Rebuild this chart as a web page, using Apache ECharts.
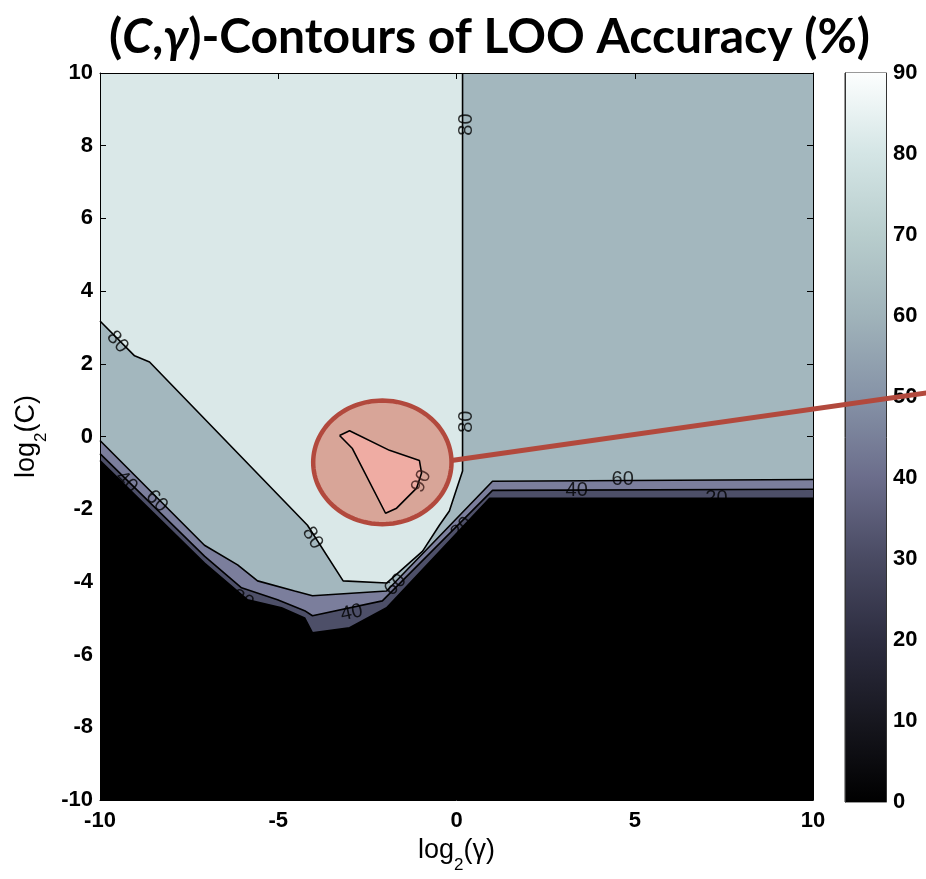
<!DOCTYPE html>
<html><head><meta charset="utf-8">
<script src="https://cdn.jsdelivr.net/npm/echarts@6/dist/echarts.min.js"></script>
<style>html,body{margin:0;padding:0;background:#fff}#chart{width:926px;height:879px}</style>
</head><body><div id="chart"></div>
<script>
// ---- contour level lines (log2(gamma), log2(C)) ----
const level20 = [[-10,-0.66],[-7.07,-3.48],[-5.86,-4.49],[-4.91,-4.71],[-4.26,-4.99],[-4.04,-5.40],[-3.0,-5.26],[-1.96,-4.71],[0.93,-1.70],[10,-1.70]];
const level40 = [[-10,-0.47],[-7.07,-3.29],[-6.03,-4.16],[-5.02,-4.49],[-4.26,-4.79],[-4.04,-4.93],[-2.08,-4.52],[1.01,-1.48],[10,-1.45]];
const level60 = [[-10,-0.11],[-7.07,-2.99],[-6.14,-3.53],[-5.58,-3.97],[-4.54,-4.25],[-4.04,-4.38],[-1.96,-4.25],[1.01,-1.23],[10,-1.18]];
const level80 = [[-10,3.18],[-9.03,2.22],[-8.61,2.05],[-4.18,-2.44],[-3.18,-3.97],[-1.96,-4.03],[-0.95,-3.15],[-0.48,-2.44],[-0.2,-2.05],[0.0,-1.45],[0.17,-0.95],[0.17,10]];
const level90 = [[-3.28,0.03],[-3.0,0.16],[-1.88,-0.38],[-1.04,-0.66],[-0.98,-1.0],[-1.12,-1.42],[-1.68,-1.97],[-1.99,-2.11],[-2.92,-0.33],[-3.28,0.03]];
// contour labels: [x, y, text, angle]
const contourLabels = [
  [-9.51, 2.60, '80', -50], [-4.04, -2.79, '80', -58], [0.29, 8.58, '80', 90], [0.29, 0.41, '80', 90],
  [-0.98, -1.23, '90', 65], [-8.41, -1.78, '60', -45], [-9.26, -1.25, '40', -45], [-1.71, -4.08, '60', 46],
  [-2.94, -4.85, '40', 12], [-6.0, -4.49, '20', -30], [0.15, -2.52, '20', 45],
  [3.37, -1.48, '40', 0], [4.66, -1.18, '60', 0], [7.29, -1.70, '20', 0]
];
// annotation: ellipse [cx, cy, rx, ry] and callout line [x1,y1,x2,y2] in axis units
const highlightEllipse = [-2.08, -0.71, 1.94, 1.70];
const calloutLine = [-0.14, -0.66, 13.4, 1.23];
// colorbar
const cbLevels = [0, 10, 20, 30, 40, 50, 60, 70, 80, 90];
const cbColors = ['#000000','#17171f','#2d2d40','#494a62','#6b6d8b','#8693a7','#a0b3ba','#b8cdcd','#d4e5e5','#fcfefe'];
// band fill colours
const colBelow20 = '#000000', col20 = '#4d4f68', col40 = '#7b7e9c', col60 = '#a3b7be', col80 = '#dae8e8', col90 = '#efaca3';

function upperRegion(line) {
  const pts = line.slice();
  if (pts[pts.length-1][1] !== 10) pts.push([10, 10]);
  pts.push([-10, 10]);
  return pts;
}
function fillSeries(pts, color, z) {
  return { type:'custom', xAxisIndex:0, yAxisIndex:0, clip:true, silent:true, z:z, data:[[0,0]],
    renderItem:(params, api) => ({ type:'polygon', shape:{ points: pts.map(p => api.coord(p)) }, style:{ fill: color } }) };
}
function lineSeries(pts, z) {
  return { type:'line', xAxisIndex:0, yAxisIndex:0, data: pts, symbol:'none', showSymbol:false, silent:true, z:z,
    lineStyle:{ color:'#000', width:1.6 } };
}

const chart = echarts.init(document.getElementById('chart'), null, {renderer:'canvas'});
const tickFont = { fontFamily:'Liberation Sans', fontWeight:'bold', fontSize:22, color:'#000' };
const nameRich = {
  a: { fontFamily:'Liberation Sans Narrow, Liberation Sans', fontSize:27, color:'#000', verticalAlign:'top', lineHeight:30 },
  s: { fontFamily:'Liberation Sans Narrow, Liberation Sans', fontSize:17, color:'#000', verticalAlign:'top', lineHeight:20, padding:[20,0,0,0] }
};
const stops = cbLevels.map((v,i) => ({ offset: (90 - v) / 90, color: cbColors[i] })).reverse();

const option = {
  animation: false,
  backgroundColor: '#fff',
  title: {
    text: '{n|(}{i|C}{n|,}{i|γ}{n|)-Contours of LOO Accuracy (%)}',
    left: 104, top: 9,
    textStyle: { rich: {
      n: { fontFamily:'Lato', fontWeight:'bold', fontSize:48, color:'#000' },
      i: { fontFamily:'Lato', fontWeight:'bold', fontStyle:'italic', fontSize:48, color:'#000' }
    } }
  },
  grid: [
    { left:100, right:113, top:73, bottom:77, show:true, backgroundColor:colBelow20, borderWidth:0 },
    { left:845, width:41, top:73, bottom:77, show:true, borderColor:'#333', borderWidth:1, backgroundColor:'transparent' }
  ],
  xAxis: [
    { gridIndex:0, type:'value', min:-10, max:10, interval:5, position:'bottom', z:20,
      axisLine:{ onZero:false, lineStyle:{ color:'#000', width:1 } },
      axisTick:{ inside:true, length:6, lineStyle:{ color:'#000' } },
      axisLabel:{ ...tickFont, margin:10 }, splitLine:{ show:false },
      name:'{a|log}{s|2}{a|(γ)}', nameLocation:'middle', nameGap:34, nameTextStyle:{ rich:nameRich } },
    { gridIndex:0, type:'value', min:-10, max:10, interval:5, position:'top', z:20,
      axisLine:{ onZero:false, lineStyle:{ color:'#000', width:1 } },
      axisTick:{ inside:true, length:6, lineStyle:{ color:'#000' } },
      axisLabel:{ show:false }, splitLine:{ show:false } },
    { gridIndex:1, type:'category', data:['cb'], show:false }
  ],
  yAxis: [
    { gridIndex:0, type:'value', min:-10, max:10, interval:2, position:'left', z:20,
      axisLine:{ onZero:false, lineStyle:{ color:'#000', width:1 } },
      axisTick:{ inside:true, length:6, lineStyle:{ color:'#000' } },
      axisLabel:{ ...tickFont, margin:7 }, splitLine:{ show:false },
      name:'{a|log}{s|2}{a|(C)}', nameLocation:'middle', nameGap:53, nameTextStyle:{ rich:nameRich } },
    { gridIndex:0, type:'value', min:-10, max:10, interval:2, position:'right', z:20,
      axisLine:{ onZero:false, lineStyle:{ color:'#000', width:1 } },
      axisTick:{ inside:true, length:6, lineStyle:{ color:'#000' } },
      axisLabel:{ show:false }, splitLine:{ show:false } },
    { gridIndex:1, type:'value', min:0, max:90, interval:10, position:'right', z:20,
      axisLine:{ show:true, lineStyle:{ color:'#333', width:1 } },
      axisTick:{ inside:true, length:5, lineStyle:{ color:'#333' } },
      axisLabel:{ ...tickFont, margin:7 }, splitLine:{ show:false } },
    { gridIndex:1, type:'value', min:0, max:90, interval:10, position:'left', z:20,
      axisLine:{ show:true, lineStyle:{ color:'#333', width:1 } },
      axisTick:{ inside:true, length:5, lineStyle:{ color:'#333' } },
      axisLabel:{ show:false }, splitLine:{ show:false } }
  ],
  series: [
    fillSeries(upperRegion(level20), col20, 1),
    fillSeries(upperRegion(level40), col40, 1),
    fillSeries(upperRegion(level60), col60, 1),
    fillSeries(upperRegion(level80), col80, 1),
    lineSeries(level20, 3), lineSeries(level40, 3), lineSeries(level60, 3), lineSeries(level80, 3),
    { type:'scatter', xAxisIndex:0, yAxisIndex:0, symbolSize:0, silent:true, z:4,
      data: contourLabels.filter(l => l[2] !== '90').map(l => ({ value:[l[0], l[1]], name:l[2], label:{ rotate:l[3] } })),
      itemStyle:{ color:'transparent' },
      label:{ show:true, position:'inside', formatter:'{b}', fontFamily:'Liberation Sans', fontSize:20, color:'#000' } },
    // annotation ellipse
    { type:'custom', xAxisIndex:0, yAxisIndex:0, clip:false, silent:true, z:6, data:[highlightEllipse],
      renderItem:(params, api) => {
        const c = api.coord([api.value(0), api.value(1)]);
        const s = api.size([api.value(2), api.value(3)]);
        const pts = [];
        for (let k = 0; k < 120; k++) { const t = k / 120 * Math.PI * 2; pts.push([c[0] + s[0]*Math.cos(t), c[1] + s[1]*Math.sin(t)]); }
        return { type:'polygon', shape:{ points:pts }, style:{ fill:'#d8a598', stroke:'#b2493d', lineWidth:4.5 } };
      } },
    // 90 % region
    fillSeries(level90, col90, 7),
    lineSeries(level90, 7),
    { type:'scatter', xAxisIndex:0, yAxisIndex:0, symbolSize:0, silent:true, z:8,
      data: contourLabels.filter(l => l[2] === '90').map(l => ({ value:[l[0], l[1]], name:l[2], label:{ rotate:l[3] } })),
      itemStyle:{ color:'transparent' },
      label:{ show:true, position:'inside', formatter:'{b}', fontFamily:'Liberation Sans', fontSize:20, color:'#3a1a18' } },
    // colorbar
    { type:'bar', xAxisIndex:2, yAxisIndex:2, data:[90], barWidth:'100%', silent:true, z:2,
      itemStyle:{ color: new echarts.graphic.LinearGradient(0, 0, 0, 1, stops) } },
    // callout line
    { type:'custom', xAxisIndex:0, yAxisIndex:0, clip:false, silent:true, z:30, data:[calloutLine],
      renderItem:(params, api) => {
        const a = api.coord([api.value(0), api.value(1)]);
        const b = api.coord([api.value(2), api.value(3)]);
        return { type:'line', shape:{ x1:a[0], y1:a[1], x2:b[0], y2:b[1] }, style:{ stroke:'#b2493d', lineWidth:5 } };
      } }
  ]
};
chart.setOption(option);
</script></body></html>
